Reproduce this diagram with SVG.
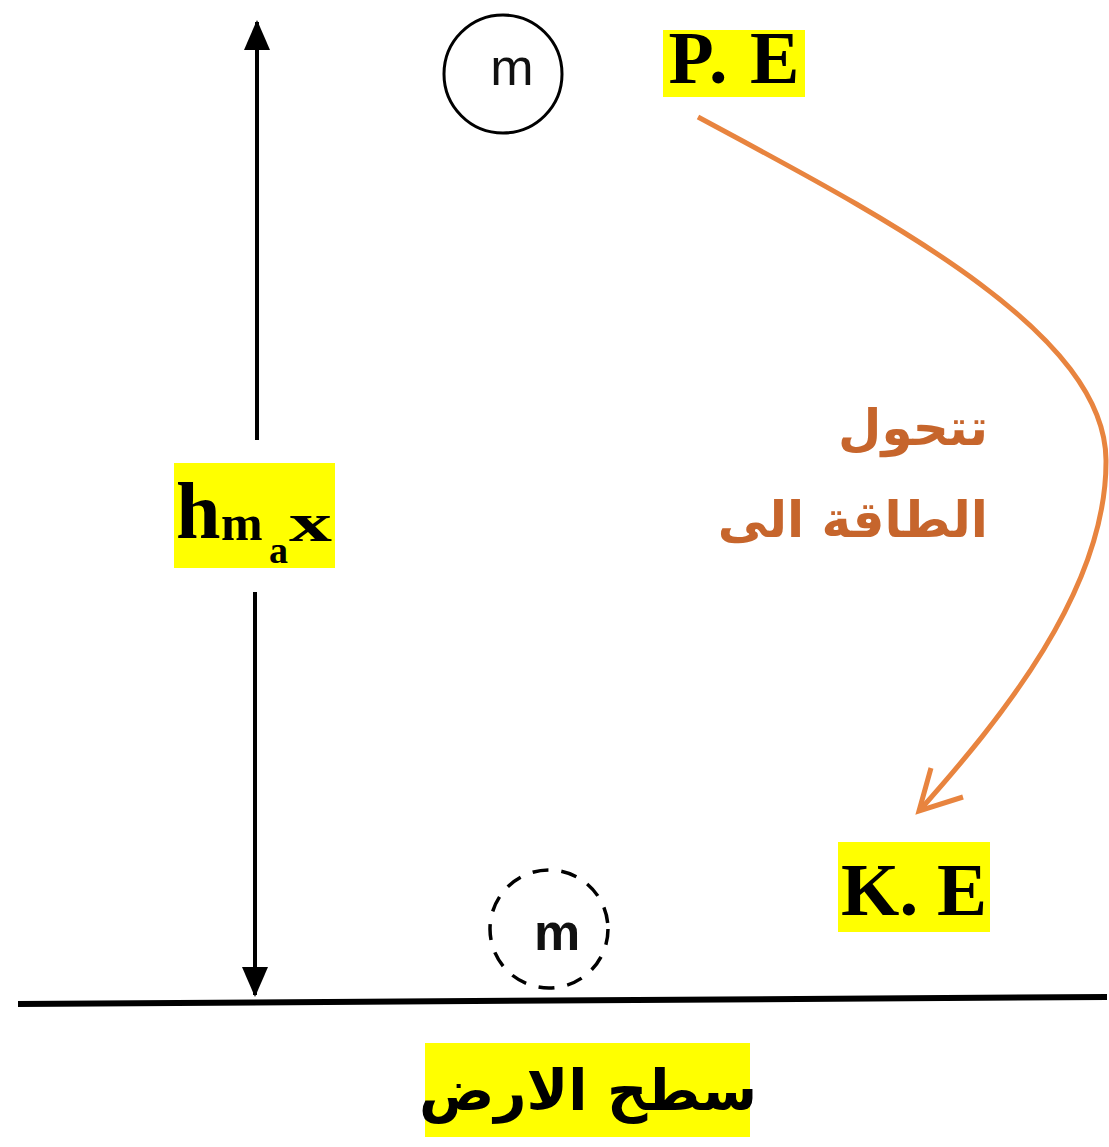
<svg xmlns="http://www.w3.org/2000/svg" width="1109" height="1147" viewBox="0 0 1109 1147">
<style>
.hl{fill:#ffff00}
.lbl{font-family:"Liberation Serif","Times New Roman",serif;font-weight:bold;fill:#000}
.ar{font-family:"DejaVu Sans",sans-serif;font-weight:bold}
.m{font-family:"Liberation Sans",Arial,sans-serif;fill:#111}
</style>
<rect width="1109" height="1147" fill="#fff"/>
<g id="connectors">
<line x1="257" y1="440" x2="257" y2="22" stroke="#000" stroke-width="4"/>
<path d="M257,20 L244,50 L270,50 Z" fill="#000"/>
<line x1="255" y1="592" x2="255" y2="995" stroke="#000" stroke-width="4"/>
<path d="M255,997 L242,967 L268,967 Z" fill="#000"/>
<path d="M698,117 C880,215 1105,330 1106,460 C1107,590 1000,720 920,810" fill="none" stroke="#e8843f" stroke-width="5"/>
<path d="M931,768 L919,811 L963,797" fill="none" stroke="#e8843f" stroke-width="5" stroke-linejoin="miter"/>
</g>
<g id="ground">
<line x1="18" y1="1004" x2="1107" y2="997" stroke="#000" stroke-width="6"/>
</g>
<g id="ball-top">
<circle cx="503" cy="74" r="59" fill="none" stroke="#000" stroke-width="3"/>
<text x="512" y="85" class="m" font-size="52" text-anchor="middle">m</text>
</g>
<g id="ball-bottom">
<circle cx="549" cy="929" r="59" fill="none" stroke="#000" stroke-width="3.5" stroke-dasharray="16,13"/>
<text x="557" y="950" class="m" font-size="52" font-weight="bold" text-anchor="middle">m</text>
</g>
<g id="pe">
<rect x="663" y="30" width="142" height="67" class="hl"/>
<text x="735" y="83" class="lbl" font-size="74" text-anchor="middle" letter-spacing="2">P. E</text>
</g>
<g id="ke">
<rect x="838" y="842" width="152" height="90" class="hl"/>
<text x="914" y="915" class="lbl" font-size="75" text-anchor="middle">K. E</text>
</g>
<g id="hmax">
<rect x="174" y="463" width="161" height="105" class="hl"/>
<text class="lbl"><tspan x="176" y="538" font-size="80">h</tspan><tspan x="221" y="540" font-size="50">m</tspan><tspan x="269" y="563" font-size="38">a</tspan><tspan x="289" y="541" font-size="54" textLength="43" lengthAdjust="spacingAndGlyphs">x</tspan></text>
</g>
<g id="label-convert">
<text x="988" y="445" class="ar" font-size="50" fill="#c6652c" text-anchor="start" direction="rtl">تتحول</text>
<text x="988" y="537" class="ar" font-size="50" fill="#c6652c" text-anchor="start" direction="rtl">الطاقة الى</text>
</g>
<g id="label-ground">
<rect x="425" y="1043" width="325" height="94" class="hl"/>
<text x="588" y="1110" class="ar" font-size="56" fill="#000" text-anchor="middle" direction="rtl">سطح الارض</text>
</g>
</svg>
